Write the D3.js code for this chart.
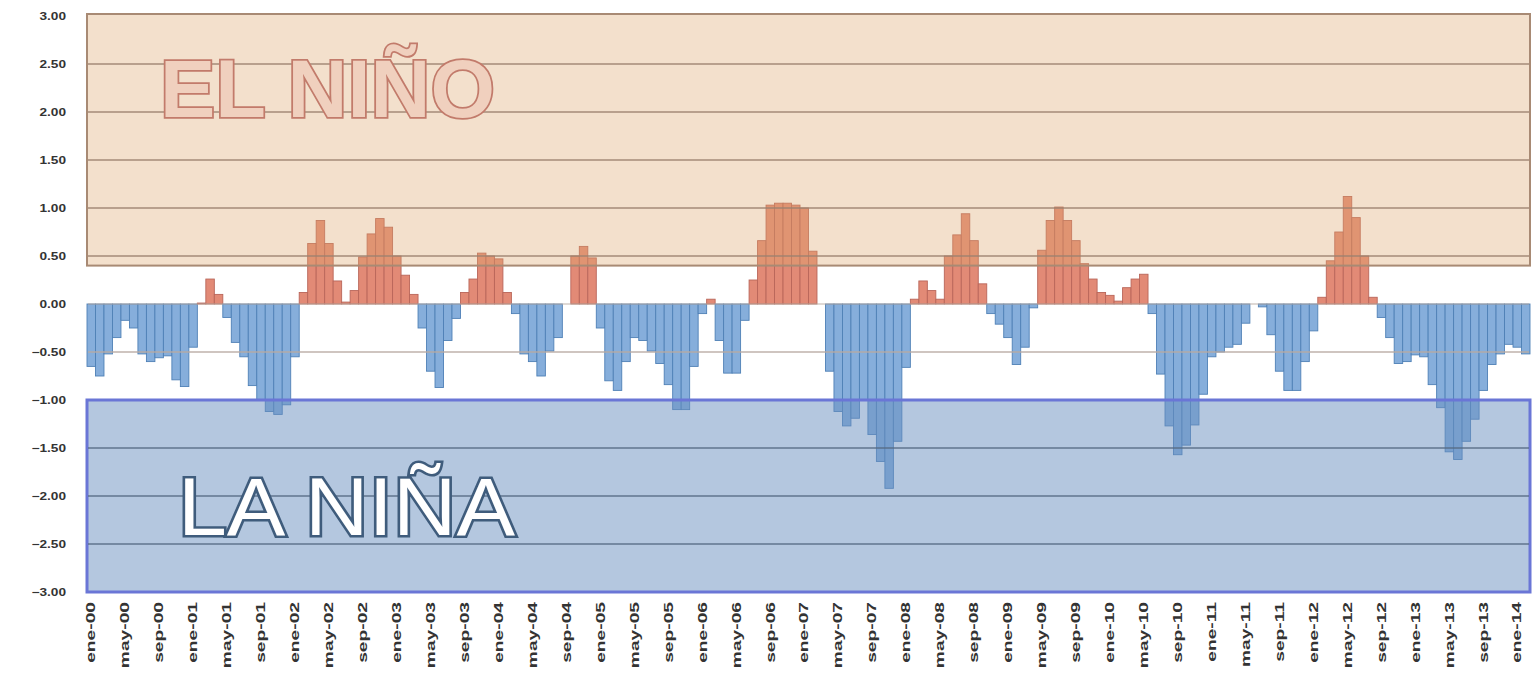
<!DOCTYPE html>
<html>
<head>
<meta charset="utf-8">
<script src="https://cdn.jsdelivr.net/npm/d3@7"></script>
<style>
    body { margin: 0; background: #ffffff; }
    #chart { width: 1536px; height: 674px; }
</style>
</head>
<body>
<div id="chart"></div>
<script>
// Monthly ENSO anomaly, ene-00 .. feb-14
const monthNames = ["ene", "feb", "mar", "abr", "may", "jun", "jul", "ago", "sep", "oct", "nov", "dic"];
const startYear = 2000;
const anomalies = [
    -0.65, -0.75, -0.52, -0.35, -0.17, -0.25, -0.52, -0.60, -0.56, -0.54, -0.79, -0.86,   // 2000
    -0.45, 0.01, 0.26, 0.10, -0.14, -0.40, -0.55, -0.85, -1.00, -1.12, -1.15, -1.05,      // 2001
    -0.55, 0.12, 0.63, 0.87, 0.63, 0.24, 0.02, 0.14, 0.49, 0.73, 0.89, 0.80,              // 2002
    0.50, 0.30, 0.10, -0.25, -0.70, -0.87, -0.38, -0.15, 0.12, 0.26, 0.53, 0.50,          // 2003
    0.47, 0.12, -0.10, -0.52, -0.60, -0.75, -0.49, -0.35, 0.00, 0.50, 0.60, 0.48,         // 2004
    -0.25, -0.80, -0.90, -0.60, -0.35, -0.38, -0.49, -0.62, -0.84, -1.10, -1.10, -0.65,   // 2005
    -0.10, 0.05, -0.38, -0.72, -0.72, -0.17, 0.25, 0.66, 1.03, 1.05, 1.05, 1.03,          // 2006
    1.00, 0.55, 0.00, -0.70, -1.12, -1.27, -1.19, -1.00, -1.36, -1.64, -1.92, -1.43,      // 2007
    -0.66, 0.05, 0.24, 0.14, 0.05, 0.50, 0.72, 0.94, 0.66, 0.21, -0.10, -0.21,            // 2008
    -0.35, -0.63, -0.45, -0.04, 0.56, 0.87, 1.01, 0.87, 0.66, 0.42, 0.26, 0.12,           // 2009
    0.09, 0.03, 0.17, 0.26, 0.31, -0.10, -0.73, -1.27, -1.57, -1.47, -1.26, -0.94,        // 2010
    -0.55, -0.50, -0.45, -0.42, -0.20, 0.00, -0.03, -0.32, -0.70, -0.90, -0.90, -0.60,    // 2011
    -0.28, 0.07, 0.45, 0.75, 1.12, 0.90, 0.50, 0.07, -0.14, -0.35, -0.62, -0.60,          // 2012
    -0.53, -0.55, -0.84, -1.08, -1.54, -1.62, -1.43, -1.20, -0.90, -0.63, -0.52, -0.42,   // 2013
    -0.45, -0.52                                                                          // 2014
];
const yTicks = [3, 2.5, 2, 1.5, 1, 0.5, 0, -0.5, -1, -1.5, -2, -2.5, -3];
const ninoRange = [0.4, 3];     // shaded El Niño zone
const ninaRange = [-3, -1];     // shaded La Niña zone

const categories = anomalies.map((v, i) =>
    monthNames[i % 12] + "-" + String((startYear + Math.floor(i / 12)) % 100).padStart(2, "0"));
const data = anomalies.map((v, i) => ({ label: categories[i], value: v }));

const width = 1536, height = 674;
const margin = { left: 87, right: 6, top: 16, bottom: 82 };

const svg = d3.select("#chart").append("svg")
    .attr("width", width)
    .attr("height", height)
    .attr("viewBox", `0 0 ${width} ${height}`);

const x = d3.scaleBand()
    .domain(categories)
    .range([margin.left, width - margin.right])
    .padding(0);

const y = d3.scaleLinear()
    .domain([-3, 3])
    .range([height - margin.bottom, margin.top]);

// bars first, the shaded zones are laid over them
const barGroup = svg.append("g").attr("class", "bars");
barGroup.selectAll("rect")
    .data(data)
    .join("rect")
    .attr("x", d => x(d.label))
    .attr("width", x.bandwidth())
    .attr("y", d => d.value >= 0 ? y(d.value) : y(0))
    .attr("height", d => Math.abs(y(d.value) - y(0)))
    .attr("fill", d => d.value >= 0 ? "#e28a76" : "#86aedb")
    .attr("stroke", d => d.value >= 0 ? "#b9665a" : "#4f80b6")
    .attr("stroke-width", 0.9);

// El Niño zone
svg.append("rect")
    .attr("x", margin.left)
    .attr("y", y(ninoRange[1]) - 2)
    .attr("width", width - margin.right - margin.left)
    .attr("height", y(ninoRange[0]) - y(ninoRange[1]) + 2)
    .attr("fill", "#dca56d")
    .attr("fill-opacity", 0.35)
    .attr("stroke", "#a88a74")
    .attr("stroke-width", 2);

// La Niña zone
svg.append("rect")
    .attr("x", margin.left)
    .attr("y", y(ninaRange[1]))
    .attr("width", width - margin.right - margin.left)
    .attr("height", y(ninaRange[0]) - y(ninaRange[1]))
    .attr("fill", "#6990c0")
    .attr("fill-opacity", 0.5)
    .attr("stroke", "#6a76d6")
    .attr("stroke-width", 3);

// gridlines, colour depends on the zone they sit in
const gridGroup = svg.append("g").attr("class", "grid");
gridGroup.selectAll("line")
    .data(yTicks.filter(t => t !== 3 && t !== -3 && t !== -1))
    .join("line")
    .attr("x1", margin.left + 1)
    .attr("x2", width - margin.right - 1)
    .attr("y1", d => y(d))
    .attr("y2", d => y(d))
    .attr("stroke", d => d > 0.4 ? "#9b8170" : (d < -1 ? "#566a84" : "#b8aaa2"))
    .attr("stroke-opacity", d => d === 0 ? 0.6 : 0.9)
    .attr("stroke-width", 1.6);

// y axis labels (a bit wide in the original, hence the stretch)
const yAxis = d3.axisLeft(y)
    .tickValues(yTicks)
    .tickFormat(d3.format(".2f"))
    .tickSize(0)
    .tickPadding(0);
svg.append("g")
    .attr("transform", `translate(66,0)`)
    .call(yAxis)
    .call(g => g.select(".domain").remove())
    .selectAll("text")
    .attr("x", 0)
    .attr("transform", "scale(1.3,1)")
    .attr("font-family", "Liberation Sans, Arial, sans-serif")
    .attr("font-size", 10.5)
    .attr("font-weight", "bold")
    .attr("fill", "#333");

// x axis labels, one every four months, rotated and stretched
const xAxis = d3.axisBottom(x)
    .tickValues(categories.filter((c, i) => i % 4 === 0))
    .tickSize(0)
    .tickPadding(0);
svg.append("g")
    .attr("transform", `translate(0,${height - margin.bottom + 10})`)
    .call(xAxis)
    .call(g => g.select(".domain").remove())
    .selectAll("text")
    .attr("transform", "rotate(-90) scale(1.6,1)")
    .attr("text-anchor", "end")
    .attr("x", 0)
    .attr("y", 0)
    .attr("dy", "0.35em")
    .attr("font-family", "Liberation Sans, Arial, sans-serif")
    .attr("font-size", 12)
    .attr("font-weight", "bold")
    .attr("fill", "#333");

// zone titles
svg.append("text")
    .attr("x", 160)
    .attr("y", 117)
    .attr("textLength", 335)
    .attr("lengthAdjust", "spacingAndGlyphs")
    .attr("font-family", "Liberation Sans, Arial, sans-serif")
    .attr("font-size", 82)
    .attr("font-weight", "bold")
    .attr("fill", "#f0d0be")
    .attr("stroke", "#c27b6b")
    .attr("stroke-width", 3.5)
    .attr("paint-order", "stroke")
    .text("EL NIÑO");

svg.append("text")
    .attr("x", 178)
    .attr("y", 535)
    .attr("textLength", 337)
    .attr("lengthAdjust", "spacingAndGlyphs")
    .attr("font-family", "Liberation Sans, Arial, sans-serif")
    .attr("font-size", 82)
    .attr("fill", "#ffffff")
    .attr("stroke", "#3f5c7c")
    .attr("stroke-width", 5)
    .attr("paint-order", "stroke")
    .text("LA NIÑA");
</script>
</body>
</html>
